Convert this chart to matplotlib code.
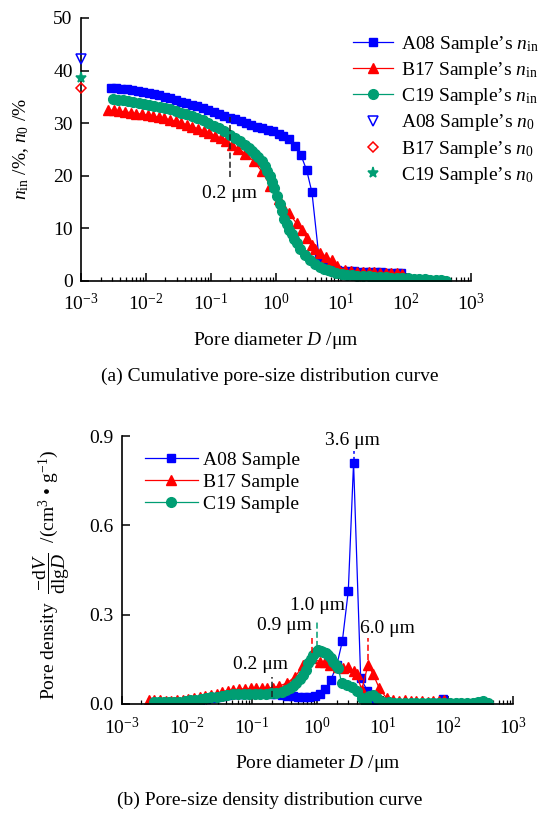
import matplotlib.pyplot as plt
from matplotlib.ticker import FixedLocator, NullFormatter, FormatStrFormatter

plt.rcParams.update({
    "font.family": ["Liberation Serif", "DejaVu Serif"],
    "font.size": 14,
    "mathtext.fontset": "custom",
    "mathtext.rm": "Liberation Serif",
    "mathtext.it": "Liberation Serif:italic",
    "mathtext.bf": "Liberation Serif:bold",
    "axes.linewidth": 1.2,
})

BLUE = "#0000ff"
RED = "#ff0000"
GREEN = "#009e73"

# ---------- data: pore diameters (um) ----------
d_a08 = [0.0029, 0.0035, 0.0042, 0.0051, 0.0062, 0.0075, 0.0091, 0.011, 0.0133, 0.0161,
         0.0195, 0.0236, 0.0286, 0.0347, 0.042, 0.051, 0.062, 0.075, 0.091, 0.11,
         0.133, 0.161, 0.195, 0.236, 0.286, 0.347, 0.42, 0.51, 0.62, 0.75,
         0.91, 1.1, 1.31, 1.61, 1.99, 2.42, 2.99, 3.6, 4.63, 5.85,
         7.2, 8.9, 11, 13.3, 16.1, 19.5, 23.6, 28.6, 34.7, 42,
         51, 62, 75, 86]
d_b17 = [0.0026, 0.0032, 0.0039, 0.0048, 0.0058, 0.0071, 0.0087, 0.0106, 0.013, 0.0158,
         0.0193, 0.0235, 0.0287, 0.035, 0.043, 0.052, 0.064, 0.078, 0.095, 0.116,
         0.141, 0.172, 0.21, 0.26, 0.34, 0.46, 0.61, 0.82, 1.1, 1.3,
         1.57, 2.1, 2.5, 3.0, 3.6, 4.0, 4.8, 6.0, 7.2, 8.9,
         11.6, 14.5, 18, 22, 27, 33, 40, 49, 60, 73, 89]
d_c19 = [0.0031, 0.0037, 0.0044, 0.0053, 0.0064, 0.0077, 0.0093, 0.0112, 0.0135, 0.0163,
         0.0197, 0.0238, 0.0288, 0.0348, 0.042, 0.051, 0.062, 0.075, 0.091, 0.11,
         0.133, 0.161, 0.195, 0.236, 0.285, 0.33, 0.38, 0.43, 0.48, 0.54,
         0.61, 0.67, 0.73, 0.8, 0.87, 0.95, 1.04, 1.14, 1.24, 1.36,
         1.48, 1.62, 1.76, 1.93, 2.1, 2.37, 2.82, 3.37, 4.03, 4.8,
         5.6, 6.3, 7.1, 8.3, 10.3, 12.5, 15, 18, 22, 27,
         33, 40, 49, 60, 73, 89, 108, 132, 160, 195,
         240, 290, 350, 414]

# ---------- cumulative intrusion n_in (%) ----------
nin_a08 = [36.7, 36.6, 36.5, 36.4, 36.3, 36.1, 36.0, 35.8, 35.6, 35.3,
           35.0, 34.7, 34.4, 34.1, 33.8, 33.5, 33.2, 32.8, 32.5, 32.1,
           31.8, 31.4, 31.0, 30.7, 30.3, 30.0, 29.7, 29.3, 29.0, 28.7,
           28.4, 28.0, 27.6, 27.0, 25.6, 24.0, 21.0, 16.8, 4.3, 2.9,
           2.2, 2.0, 1.9, 1.8, 1.8, 1.7, 1.7, 1.7, 1.6, 1.6,
           1.5, 1.5, 1.4, 1.4]
nin_b17 = [32.5, 32.4, 32.3, 32.1, 32.0, 31.8, 31.7, 31.5, 31.3, 31.1,
           30.9, 30.6, 30.3, 30.0, 29.7, 29.3, 28.9, 28.5, 28.1, 27.6,
           27.1, 26.5, 25.8, 25.1, 24.2, 22.7, 20.8, 18.1, 15.6, 14.1,
           12.9, 10.9, 9.6, 8.1, 6.8, 6.0, 5.2, 4.6, 3.9, 2.8,
           2.0, 1.8, 1.7, 1.7, 1.6, 1.6, 1.5, 1.5, 1.4, 1.4, 1.3]
nin_c19 = [34.5, 34.4, 34.3, 34.2, 34.0, 33.9, 33.7, 33.5, 33.3, 33.1,
           32.9, 32.6, 32.3, 32.0, 31.7, 31.4, 31.0, 30.5, 30.0, 29.5,
           29.0, 28.5, 27.8, 27.1, 26.5, 25.9, 25.3, 24.7, 24.1, 23.5,
           22.7, 21.9, 20.9, 19.9, 18.8, 17.6, 16.2, 14.6, 13.2, 11.8,
           10.7, 9.7, 8.8, 7.9, 7.1, 6.0, 4.9, 3.9, 3.2, 2.7,
           2.3, 2.0, 1.8, 1.5, 1.3, 1.1, 1.0, 0.95, 0.9, 0.85,
           0.8, 0.75, 0.7, 0.6, 0.55, 0.5, 0.45, 0.4, 0.3, 0.25,
           0.2, 0.15, 0.1, 0.0]

# total porosity n0 (%)
n0_samples = ["A08", "B17", "C19"]
n0_values = [42.2, 36.6, 38.6]

# ---------- pore density -dV/dlgD (cm3/g) ----------
pd_a08 = [0.005, 0.005, 0.004, 0.004, 0.003, 0.002, 0.001, 0.0, 0.008, 0.013,
          0.017, 0.020, 0.024, 0.027, 0.030, 0.032, 0.034, 0.035, 0.036, 0.036,
          0.036, 0.036, 0.035, 0.034, 0.031, 0.028, 0.026, 0.025, 0.025, 0.025,
          0.028, 0.034, 0.049, 0.080, 0.130, 0.210, 0.380, 0.810, 0.086, 0.045,
          0.008, 0.003, 0.002, 0.002, 0.001, 0.001, 0.001, 0.001, 0.001, 0.001,
          0.001, 0.002, 0.002, 0.018]
pd_b17 = [0.012, 0.013, 0.012, 0.011, 0.011, 0.012, 0.014, 0.016, 0.019, 0.022,
          0.026, 0.030, 0.035, 0.040, 0.045, 0.048, 0.050, 0.051, 0.052, 0.052,
          0.053, 0.054, 0.055, 0.060, 0.070, 0.092, 0.130, 0.153, 0.142, 0.140,
          0.131, 0.123, 0.120, 0.123, 0.110, 0.100, 0.048, 0.131, 0.100, 0.053,
          0.019, 0.012, 0.010, 0.012, 0.009, 0.010, 0.011, 0.008, 0.010, 0.009, 0.015]
pd_c19 = [0.005, 0.005, 0.006, 0.006, 0.007, 0.008, 0.010, 0.012, 0.014, 0.017,
          0.019, 0.022, 0.025, 0.028, 0.031, 0.033, 0.034, 0.035, 0.035, 0.035,
          0.035, 0.035, 0.036, 0.037, 0.041, 0.046, 0.053, 0.061, 0.070, 0.083,
          0.097, 0.115, 0.137, 0.152, 0.164, 0.175, 0.181, 0.179, 0.176, 0.170,
          0.165, 0.153, 0.142, 0.130, 0.120, 0.070, 0.064, 0.058, 0.045, 0.019,
          0.003, 0.028, 0.031, 0.020, 0.008, 0.005, 0.004, 0.003, 0.003, 0.003,
          0.003, 0.003, 0.003, 0.003, 0.004, 0.004, 0.004, 0.004, 0.004, 0.004,
          0.004, 0.005, 0.010, 0.004]

fig = plt.figure(figsize=(5.42, 8.13), dpi=100)
ax1 = fig.add_axes([0.1494, 0.6547, 0.719, 0.3232])
ax2 = fig.add_axes([0.2242, 0.1341, 0.7223, 0.3296])

major_x = [1e-3, 1e-2, 1e-1, 1e0, 1e1, 1e2, 1e3]
minor_x = [m * 10.0 ** e for e in range(-3, 3) for m in range(2, 10)]


def style_axes(ax):
    ax.set_xscale("log")
    ax.set_xlim(1e-3, 1e3)
    for s in ["top", "right"]:
        ax.spines[s].set_visible(False)
    ax.xaxis.set_major_locator(FixedLocator(major_x))
    ax.xaxis.set_minor_locator(FixedLocator(minor_x))
    ax.xaxis.set_minor_formatter(NullFormatter())
    ax.tick_params(axis="both", which="major", direction="in", length=6, width=1.1)
    ax.tick_params(axis="x", which="minor", direction="in", length=3, width=0.9)
    ax.tick_params(axis="x", which="major", pad=9)
    ax.tick_params(axis="y", which="major", pad=6)


# ---------- (a) cumulative ----------
style_axes(ax1)
ax1.plot(d_a08, nin_a08, "-s", color=BLUE, ms=6, lw=0.9, label="A08 Sample\u2019s $n_{\\mathrm{in}}$")
ax1.plot(d_b17, nin_b17, "-^", color=RED, ms=7, lw=0.9, label="B17 Sample\u2019s $n_{\\mathrm{in}}$")
ax1.plot(d_c19, nin_c19, "-o", color=GREEN, ms=7, lw=0.9, label="C19 Sample\u2019s $n_{\\mathrm{in}}$")
n0_styles = [("v", BLUE, "none", 7), ("D", RED, "none", 5.5), ("*", GREEN, GREEN, 8)]
for name, val, (mk, col, fc, ms) in zip(n0_samples, n0_values, n0_styles):
    ax1.plot([1e-3], [val], linestyle="none", marker=mk, color=col, mfc=fc,
             ms=ms, mew=1.1, clip_on=False, zorder=5,
             label=name + " Sample\u2019s $n_0$")
ax1.plot([0.2, 0.2], [19.8, 31.2], ls=(0, (4, 2)), color="#222222", lw=1.1)
ax1.text(0.196, 16.6, "0.2 \u03bcm", ha="center", va="center")
ax1.set_ylim(0, 50)
ax1.set_yticks([0, 10, 20, 30, 40, 50])
ax1.set_xlabel("Pore diameter $D$ /\u03bcm", labelpad=11)
ax1.set_ylabel("$n_{\\mathrm{in}}$ /%, $n_0$ /%")
ax1.yaxis.set_label_coords(-0.127, 0.5)
fig.legend(*ax1.get_legend_handles_labels(), loc="upper left",
           bbox_to_anchor=(0.652, 0.9586), frameon=False, numpoints=1,
           handlelength=2.05, handletextpad=0.4, labelspacing=0.27,
           borderpad=0, borderaxespad=0)
fig.text(0.498, 1 - 376 / 813, "(a) Cumulative pore-size distribution curve",
         ha="center", va="center", fontsize=14)

# ---------- (b) density ----------
style_axes(ax2)
ax2.plot(d_a08, pd_a08, "-s", color=BLUE, ms=6, lw=0.9, label="A08 Sample")
ax2.plot(d_b17, pd_b17, "-^", color=RED, ms=7, lw=0.9, label="B17 Sample")
ax2.plot(d_c19, pd_c19, "-o", color=GREEN, ms=7, lw=0.9, label="C19 Sample")
ax2.set_ylim(0, 0.9)
ax2.set_yticks([0, 0.3, 0.6, 0.9])
ax2.yaxis.set_major_formatter(FormatStrFormatter("%.1f"))

dash = (0, (4, 2))
ax2.plot([3.6, 3.6], [0.81, 0.85], ls=dash, color=BLUE, lw=1.1, clip_on=False)
ax2.plot([1.0, 1.0], [0.19, 0.276], ls=dash, color=GREEN, lw=1.1)
ax2.plot([0.82, 0.82], [0.17, 0.222], ls=dash, color=RED, lw=1.1)
ax2.plot([6.0, 6.0], [0.148, 0.222], ls=dash, color=RED, lw=1.1)
ax2.plot([0.2, 0.2], [0.025, 0.092], ls=dash, color="#222222", lw=1.1)
ax2.text(3.5, 0.884, "3.6 \u03bcm", ha="center", va="center", clip_on=False)
ax2.text(1.0, 0.332, "1.0 \u03bcm", ha="center", va="center")
ax2.text(0.316, 0.262, "0.9 \u03bcm", ha="center", va="center")
ax2.text(11.8, 0.255, "6.0 \u03bcm", ha="center", va="center")
ax2.text(0.134, 0.131, "0.2 \u03bcm", ha="center", va="center")

ax2.set_xlabel("Pore diameter $D$ /\u03bcm", labelpad=11)
ax2.set_ylabel("Pore density  $\\dfrac{-\\mathrm{d}V}{\\mathrm{dlg}D}$  /(cm$^3$ \u2022 g$^{-1}$)")
ax2.yaxis.set_label_coords(-0.127, 0.48)
ax2.legend(loc="upper left", bbox_to_anchor=(0.06, 0.944), frameon=False, numpoints=1,
           handlelength=2.7, handletextpad=0.3, labelspacing=0.23,
           borderpad=0, borderaxespad=0)
fig.text(0.498, 1 - 800 / 813, "(b) Pore-size density distribution curve",
         ha="center", va="center", fontsize=14)

fig.savefig("out.png", dpi=100)
